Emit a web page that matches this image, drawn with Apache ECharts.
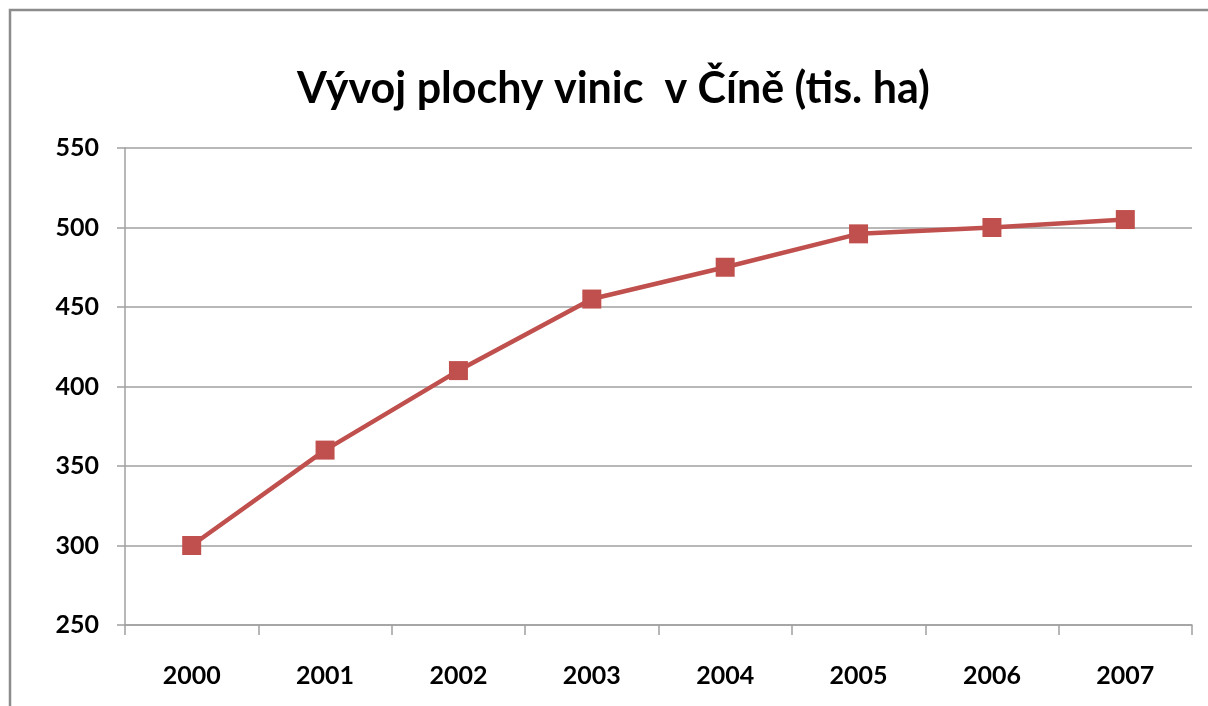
<!DOCTYPE html>
<html>
<head>
<meta charset="utf-8">
<script src="https://cdn.jsdelivr.net/npm/echarts@6/dist/echarts.min.js"></script>
<style>
    html, body {margin: 0; padding: 0; background: #fff;}
    #chart {width: 1208px; height: 706px;}
</style>
</head>
<body>
<div id="chart"></div>
<script>
const years = ['2000', '2001', '2002', '2003', '2004', '2005', '2006', '2007'];
const vineyardArea = [300, 360, 410, 455, 475, 496, 500, 505];
const yTicks = {min: 250, max: 550, step: 50};

let ec = echarts.init(document.getElementById('chart'));
let labelFont = {
    fontFamily: 'Lato',
    fontWeight: 'bold',
    fontSize: 25,
    color: '#000'
};
var option = {
    backgroundColor: '#fff',
    animation: false,
    title: {
        text: 'Vývoj plochy vinic  v Číně (tis. ha)',
        left: 292,
        top: 63,
        textStyle: {
            fontFamily: 'Lato',
            fontWeight: 'bold',
            fontSize: 43,
            color: '#000'
        }
    },
    // frame of the original chart area
    graphic: [{
        type: 'rect',
        shape: {x: 10, y: 10, width: 1240, height: 740},
        style: {fill: 'none', stroke: '#8c8c8c', lineWidth: 2.5},
        silent: true
    }],
    grid: {
        left: 125,
        right: 16,
        top: 148,
        bottom: 81
    },
    xAxis: {
        type: 'category',
        data: years,
        boundaryGap: true,
        axisLine: {lineStyle: {color: '#a0a0a0', width: 1.5}},
        axisTick: {show: true, interval: 0, length: 10, lineStyle: {color: '#a0a0a0', width: 1.5}},
        axisLabel: Object.assign({margin: 38}, labelFont),
        splitLine: {show: false}
    },
    yAxis: {
        type: 'value',
        min: yTicks.min,
        max: yTicks.max,
        interval: yTicks.step,
        axisLine: {show: true, lineStyle: {color: '#a0a0a0', width: 1.5}},
        axisTick: {show: true, length: 8, lineStyle: {color: '#a0a0a0', width: 1.5}},
        axisLabel: Object.assign({margin: 26}, labelFont),
        splitLine: {show: true, lineStyle: {color: '#a0a0a0', width: 1.5}}
    },
    series: [{
        name: 'plocha vinic',
        type: 'line',
        data: vineyardArea,
        symbol: 'rect',
        symbolSize: 19,
        lineStyle: {color: '#c0504d', width: 4.5},
        itemStyle: {color: '#c0504d'}
    }]
};
ec.setOption(option);
</script>
</body>
</html>
